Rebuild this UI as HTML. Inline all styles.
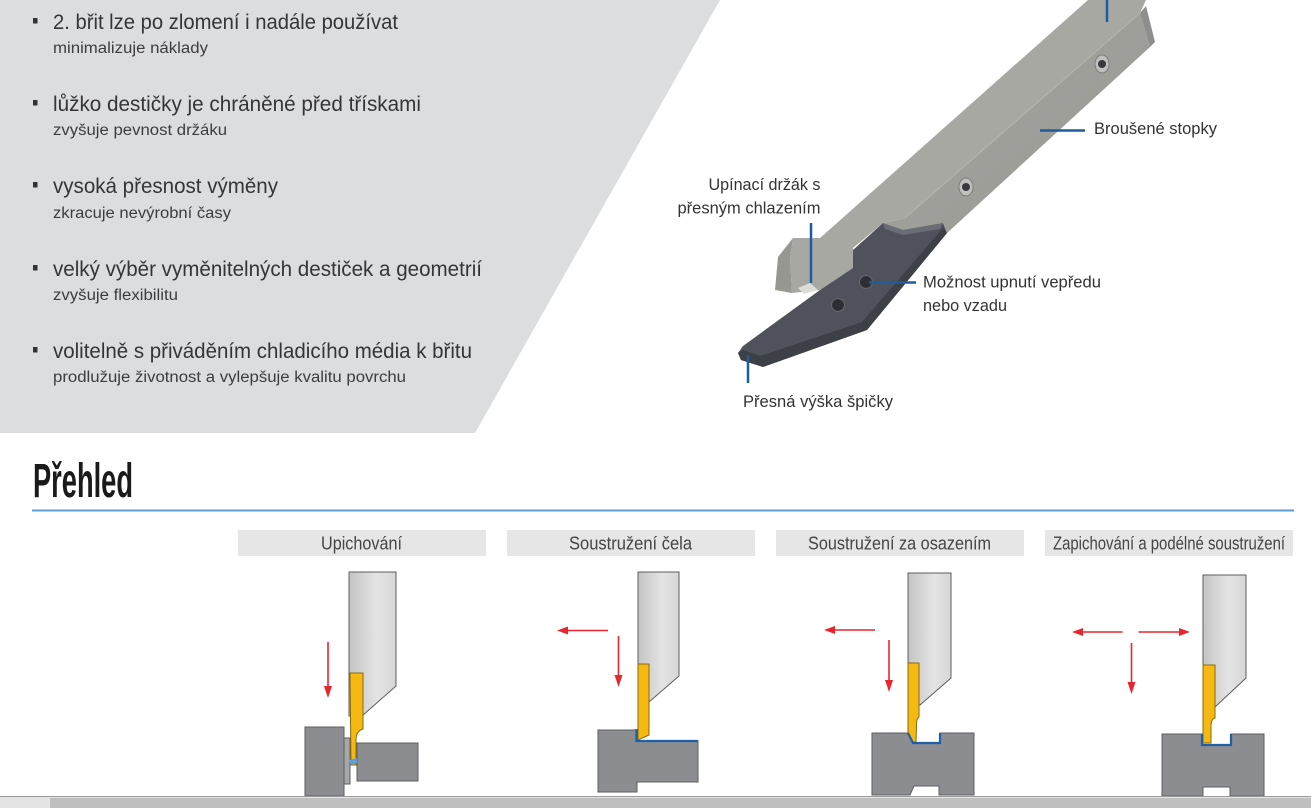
<!DOCTYPE html>
<html>
<head>
<meta charset="utf-8">
<style>
  html,body{margin:0;padding:0;background:#ffffff;}
  svg{display:block;}
  text{font-family:"Liberation Sans", Arial, sans-serif;}
</style>
</head>
<body>
<svg width="1311" height="808" viewBox="0 0 1311 808" xmlns="http://www.w3.org/2000/svg">
  <defs>
    <linearGradient id="shank" x1="0" y1="0" x2="1" y2="0">
      <stop offset="0" stop-color="#c4c4c4"/>
      <stop offset="0.6" stop-color="#e4e4e4"/>
      <stop offset="1" stop-color="#d6d6d6"/>
    </linearGradient>
    <linearGradient id="bar" x1="0" y1="0" x2="1" y2="1">
      <stop offset="0" stop-color="#a4a49f"/>
      <stop offset="1" stop-color="#9a9a95"/>
    </linearGradient>
  </defs>

  <!-- background -->
  <rect x="0" y="0" width="1311" height="808" fill="#ffffff"/>
  <!-- left grey polygon -->
  <polygon points="0,0 720,0 475,433 0,433" fill="#dcdddf"/>

  <!-- bullets -->
  <g fill="#333">
    <rect x="33" y="18" width="4.5" height="5.5"/>
    <rect x="33" y="100" width="4.5" height="5.5"/>
    <rect x="33" y="182" width="4.5" height="5.5"/>
    <rect x="33" y="265" width="4.5" height="5.5"/>
    <rect x="33" y="347" width="4.5" height="5.5"/>
  </g>
  <g fill="#353535" font-size="21.5">
    <text x="53" y="29" textLength="345" lengthAdjust="spacingAndGlyphs">2. břit lze po zlomení i nadále používat</text>
    <text x="53" y="111" textLength="368" lengthAdjust="spacingAndGlyphs">lůžko destičky je chráněné před třískami</text>
    <text x="53" y="193" textLength="225" lengthAdjust="spacingAndGlyphs">vysoká přesnost výměny</text>
    <text x="53" y="276" textLength="429" lengthAdjust="spacingAndGlyphs">velký výběr vyměnitelných destiček a geometrií</text>
    <text x="53" y="358" textLength="419" lengthAdjust="spacingAndGlyphs">volitelně s přiváděním chladicího média k břitu</text>
  </g>
  <g fill="#3d3d3d" font-size="15.5">
    <text x="53" y="53" textLength="155" lengthAdjust="spacingAndGlyphs">minimalizuje náklady</text>
    <text x="53" y="135" textLength="174" lengthAdjust="spacingAndGlyphs">zvyšuje pevnost držáku</text>
    <text x="53" y="218" textLength="178" lengthAdjust="spacingAndGlyphs">zkracuje nevýrobní časy</text>
    <text x="53" y="300" textLength="125" lengthAdjust="spacingAndGlyphs">zvyšuje flexibilitu</text>
    <text x="53" y="382" textLength="353" lengthAdjust="spacingAndGlyphs">prodlužuje životnost a vylepšuje kvalitu povrchu</text>
  </g>

  <!-- ===== Tool render ===== -->
  <!-- bar top face + clamp head -->
  <polygon points="1088,0 1146,0 1140,13 905,218 883,223 853,248 853,268 820,290 792,293 790,258 793,238 820,238" fill="#a8a8a3"/>
  <!-- clamp left face -->
  <polygon points="793,238 778,257 775,290 792,293 790,258" fill="#979792"/>
  <!-- bar front face -->
  <polygon points="1140,13 1150,47 947,233 943,223 903,230 883,223 905,218" fill="url(#bar)"/>
  <!-- end face -->
  <polygon points="1140,13 1146,6 1155,42 1150,47" fill="#8e8e8a"/>
  <!-- ridge highlight -->
  <line x1="1140" y1="13" x2="905" y2="218" stroke="#b6b6b1" stroke-width="1"/>
  <!-- bar screws -->
  <g>
    <ellipse cx="1102" cy="64" rx="7" ry="9" fill="#c0c0bc" stroke="#7c7c78" stroke-width="1"/>
    <circle cx="1102" cy="64" r="4" fill="#3a3a3c"/>
    <ellipse cx="966" cy="187" rx="7" ry="9" fill="#c0c0bc" stroke="#7c7c78" stroke-width="1"/>
    <circle cx="966" cy="187" r="4" fill="#3a3a3c"/>
  </g>
  <polygon points="798,288 810,283 818,290 804,294" fill="#dcdcd8"/>
  <!-- blade -->
  <polygon points="738,353 743,346 820,290 853,268 853,250 883,223 903,230 943,223 947,233 867,330 763,367 741,360" fill="#4f525a"/>
  <polygon points="738,353 741,360 763,367 867,330 947,233 943,228 862,322 760,356 743,350" fill="#3e4047"/>
  <polygon points="883,223 903,230 943,223 940,229 903,235 885,229" fill="#6a6d75"/>
  <!-- blade screws -->
  <circle cx="866" cy="282" r="6.5" fill="#2b2d32" stroke="#62656c" stroke-width="1.2"/>
  <circle cx="838" cy="305" r="6.5" fill="#2b2d32" stroke="#62656c" stroke-width="1.2"/>

  <!-- leaders -->
  <g stroke="#1d5c9e" stroke-width="2.5" fill="none">
    <line x1="1107" y1="0" x2="1107" y2="22"/>
    <line x1="1040" y1="130.5" x2="1085" y2="130.5"/>
    <line x1="811" y1="223" x2="811" y2="283"/>
    <line x1="869" y1="282.5" x2="916" y2="282.5"/>
    <line x1="748" y1="355" x2="748" y2="383"/>
  </g>
  <!-- labels -->
  <g fill="#333" font-size="17">
    <text x="1094" y="134" textLength="123" lengthAdjust="spacingAndGlyphs">Broušené stopky</text>
    <text x="708.5" y="190" textLength="112" lengthAdjust="spacingAndGlyphs">Upínací držák s</text>
    <text x="677.5" y="213.5" textLength="143" lengthAdjust="spacingAndGlyphs">přesným chlazením</text>
    <text x="923" y="287.5" textLength="178" lengthAdjust="spacingAndGlyphs">Možnost upnutí vepředu</text>
    <text x="923" y="311" textLength="84" lengthAdjust="spacingAndGlyphs">nebo vzadu</text>
    <text x="743" y="407" textLength="150" lengthAdjust="spacingAndGlyphs">Přesná výška špičky</text>
  </g>

  <!-- ===== Přehled ===== -->
  <text x="33" y="497" font-size="48" font-weight="bold" fill="#1a1a1a" textLength="100" lengthAdjust="spacingAndGlyphs">Přehled</text>
  <line x1="32" y1="510.5" x2="1294" y2="510.5" stroke="#5b9bd5" stroke-width="2"/>

  <!-- header boxes -->
  <g fill="#e6e6e6">
    <rect x="238" y="530" width="248" height="26"/>
    <rect x="507" y="530" width="248" height="26"/>
    <rect x="776" y="530" width="248" height="26"/>
    <rect x="1045" y="530" width="248" height="26"/>
  </g>
  <g fill="#454545" font-size="18">
    <text x="321" y="549.5" textLength="81" lengthAdjust="spacingAndGlyphs">Upichování</text>
    <text x="569" y="549.5" textLength="123" lengthAdjust="spacingAndGlyphs">Soustružení čela</text>
    <text x="808" y="549.5" textLength="183" lengthAdjust="spacingAndGlyphs">Soustružení za osazením</text>
    <text x="1053" y="549.5" textLength="232" lengthAdjust="spacingAndGlyphs">Zapichování a podélné soustružení</text>
  </g>

  <!-- Panel 1 -->
  <g stroke="#5e5e5e" stroke-width="1">
    <rect x="305" y="727" width="39" height="69" fill="#8c8d91"/>
    <rect x="344" y="738" width="6" height="46" fill="#a6a7aa"/>
    <rect x="357" y="743" width="61" height="38" fill="#8c8d91"/>
    <polygon points="349,572 396,572 396,686 362,716 349,716" fill="url(#shank)"/>
    <path d="M350,673 H363 V729 Q356,731 356,740 V765 H351 Z" fill="#f6b912" stroke="#8a6a10"/>
  </g>
  <polygon points="349,760 357,758 357,763 351,765" fill="#5aa0dc"/>

  <!-- Panel 2 -->
  <g stroke="#5e5e5e" stroke-width="1">
    <path d="M598,730 H636 V741 H698 V782 H637 V792 H598 Z" fill="#8c8d91"/>
    <polygon points="638,572 679,572 679,676 649,702 638,702" fill="url(#shank)"/>
    <polygon points="638,664 649,664 649,735 638,740" fill="#f6b912" stroke="#8a6a10"/>
  </g>
  <path d="M636.5,729 V741 H698" fill="none" stroke="#1f5fa8" stroke-width="2.2"/>

  <!-- Panel 3 -->
  <g stroke="#5e5e5e" stroke-width="1">
    <path d="M872,733 H908 L913,743 H940 V733 H974 V795 H939 V786 H914 L910,795 H872 Z" fill="#8c8d91"/>
    <polygon points="908,573 951,573 951,678 920,705 908,705" fill="url(#shank)"/>
    <path d="M908,663 H919 V717 Q916,719 916.5,726 L916,742 L913,742 L908,733 Z" fill="#f6b912" stroke="#8a6a10"/>
  </g>
  <path d="M908,733 L913,743 H940 V733" fill="none" stroke="#1f5fa8" stroke-width="2.2"/>

  <!-- Panel 4 -->
  <g stroke="#5e5e5e" stroke-width="1">
    <path d="M1162,734 H1202 V745 H1231 V734 H1264 V796 H1230 V787 H1203 V796 H1162 Z" fill="#8c8d91"/>
    <polygon points="1203,575 1246,575 1246,678 1215,707 1203,707" fill="url(#shank)"/>
    <path d="M1203,665 H1215 V718 Q1211,719 1211,726 V743 H1203 Z" fill="#f6b912" stroke="#8a6a10"/>
  </g>
  <path d="M1202,734 V745 H1231 V734" fill="none" stroke="#1f5fa8" stroke-width="2.2"/>

  <!-- red arrows -->
  <g stroke="#e8262d" stroke-width="1.6" fill="none">
    <line x1="328" y1="642" x2="328" y2="688"/>
    <line x1="608" y1="630.5" x2="566" y2="630.5"/>
    <line x1="618.5" y1="636" x2="618.5" y2="678"/>
    <line x1="875" y1="630" x2="833" y2="630"/>
    <line x1="889" y1="640" x2="889" y2="682"/>
    <line x1="1122.5" y1="632" x2="1081" y2="632"/>
    <line x1="1138.5" y1="632" x2="1181" y2="632"/>
    <line x1="1131.5" y1="643" x2="1131.5" y2="685"/>
  </g>
  <g fill="#e8262d">
    <polygon points="324,686 332,686 328,698"/>
    <polygon points="568,626.5 568,634.5 557,630.5"/>
    <polygon points="614.5,675 622.5,675 618.5,687"/>
    <polygon points="835,626 835,634 824,630"/>
    <polygon points="885,680 893,680 889,692"/>
    <polygon points="1083,628 1083,636 1072,632"/>
    <polygon points="1179,628 1179,636 1190,632"/>
    <polygon points="1127.5,682 1135.5,682 1131.5,694"/>
  </g>

  <!-- bottom band -->
  <rect x="0" y="797" width="1311" height="11" fill="#e4e4e4"/>
  <rect x="50" y="798" width="1261" height="10" fill="#bfbfbf"/>
  <line x1="0" y1="796.5" x2="1311" y2="796.5" stroke="#9a9a9a" stroke-width="1"/>
</svg>
</body>
</html>
